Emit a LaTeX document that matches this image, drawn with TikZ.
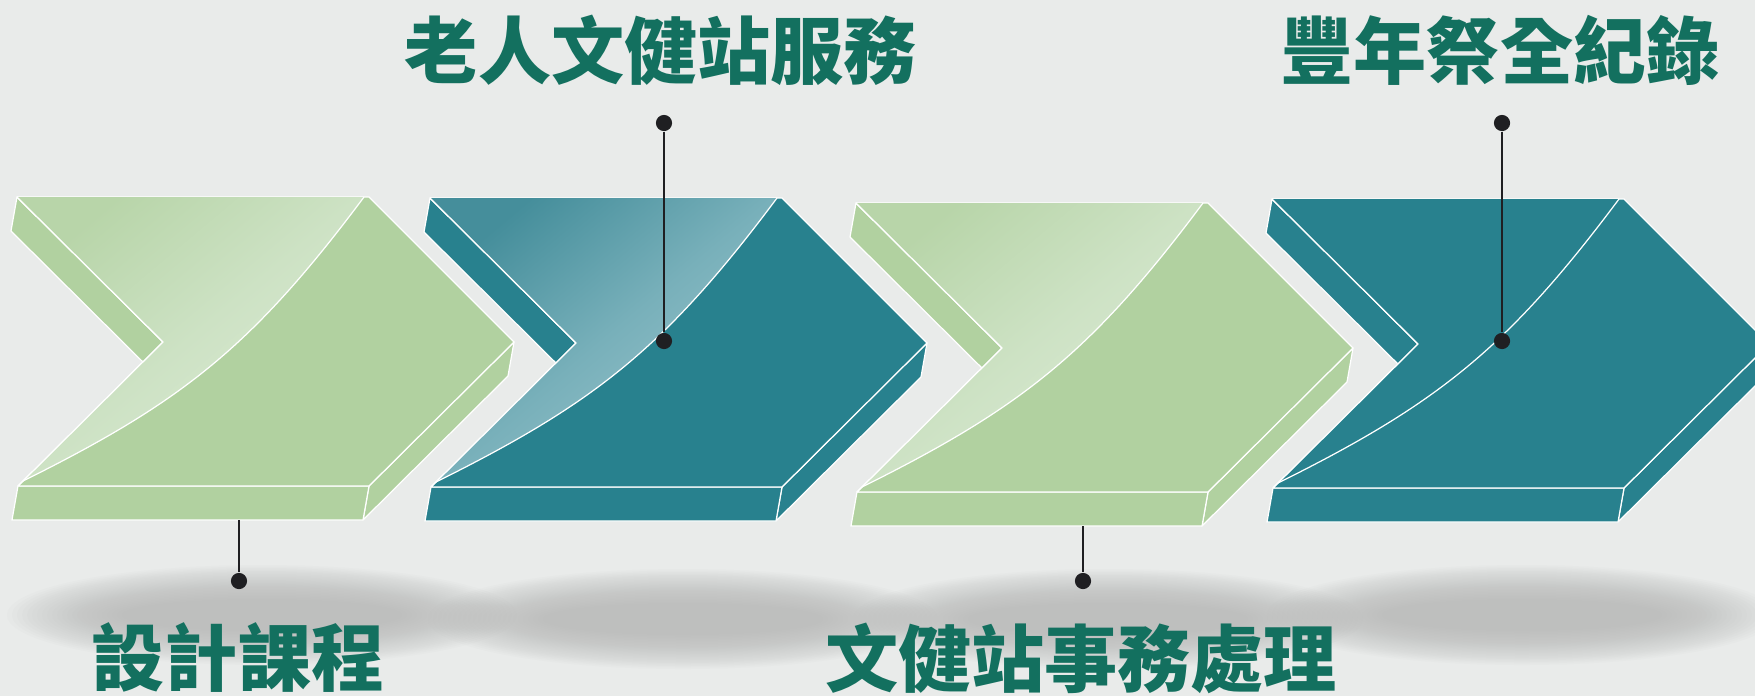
\documentclass[tikz,border=0pt]{standalone}
\usepackage{fontspec}
\usepackage{xcolor}
\usetikzlibrary{calc}
\newfontfamily\cjkfont{Noto Sans CJK TC}

\definecolor{bgcol}{HTML}{E9EBEA}
\definecolor{shadowcol}{HTML}{B5B6B5}
\definecolor{greenbase}{HTML}{B1D1A0}
\definecolor{greendark}{HTML}{B8D5A9}
\definecolor{greenmid}{HTML}{CDE2C4}
\definecolor{greenlight}{HTML}{DCEBD6}
\definecolor{tealbase}{HTML}{28818E}
\definecolor{tealdark}{HTML}{458E9B}
\definecolor{tealmid}{HTML}{78B0BA}
\definecolor{teallight}{HTML}{9CC6CE}
\definecolor{textgreen}{HTML}{13705F}
\definecolor{dotcol}{HTML}{1F1F22}

\begin{document}
\begin{tikzpicture}[x=0.01cm, y=-0.01cm,
    face/.style={draw=white, line width=0.35pt, line join=round},
    dot/.style={circle, fill=dotcol, inner sep=0pt, minimum size=4.6pt},
    stem/.style={draw=dotcol, line width=0.75pt},
    haze/.style={fill=shadowcol, opacity=0.05},
    lbl/.style={font=\cjkfont\bfseries\fontsize{20.8}{22}\selectfont, text=textgreen, inner sep=0pt}]
    \useasboundingbox (0,0) rectangle (1755,696);
    \fill[bgcol] (0,0) rectangle (1755,696);
    \clip (0,0) rectangle (1755,696);

    \foreach \sx/\sy in {262/615, 683/619, 1108/619, 1522/615}
        \foreach \k in {0,...,23}
            \fill[haze] (\sx,\sy) ellipse ({255-5*\k} and {50-1.5*\k});

    \foreach \cx/\cy/\base/\dark/\mid/\light in {17/197/greenbase/greendark/greenmid/greenlight,
        430/198/tealbase/tealdark/tealmid/teallight,
        856/203/greenbase/greendark/greenmid/greenlight,
        1272/199/tealbase/tealbase/tealbase/tealbase} {
        \begin{scope}[shift={(\cx,\cy)}]
            \filldraw[face, fill=\base] (0,0) -- (146,145) -- (140,179) -- (-6,34) -- cycle;
            \filldraw[face, fill=\base] (497,145) -- (352,289) -- (346,323) -- (491,179) -- cycle;
            \filldraw[face, fill=\base] (1,289) -- (352,289) -- (346,323) -- (-5,323) -- cycle;
            \filldraw[face, fill=\base] (0,0) -- (352,0) -- (497,145) -- (352,289) -- (1,289) -- (146,145) -- cycle;
            \shade[top color=\dark, bottom color=\light, middle color=\mid, shading angle=40]
                (0,0) -- (347,0) .. controls (235,150) and (165,205) .. (6,284) -- (146,145) -- cycle;
            \draw[face] (347,0) .. controls (235,150) and (165,205) .. (6,284);
            \draw[face] (0,0) -- (146,145) -- (1,289);
        \end{scope}
    }

    \node[dot] (d2top) at (664,123) {};
    \node[dot] (d2low) at (664,341) {};
    \node[dot] (d4top) at (1502,123) {};
    \node[dot] (d4low) at (1502,341) {};
    \node[dot] (d1) at (239,581) {};
    \node[dot] (d3) at (1083,581) {};
    \coordinate (c1) at (239,520);
    \coordinate (c3) at (1083,526);

    \draw[stem] (d2top) -- (d2low);
    \draw[stem] (d4top) -- (d4low);
    \draw[stem] (c1) -- (d1);
    \draw[stem] (c3) -- (d3);

    \node[lbl] (t2) at (661,50) {老人文健站服務};
    \node[lbl] (t4) at (1500,50) {豐年祭全紀錄};
    \node[lbl] (t1) at (238,658) {設計課程};
    \node[lbl] (t3) at (1081,658) {文健站事務處理};
\end{tikzpicture}
\end{document}
